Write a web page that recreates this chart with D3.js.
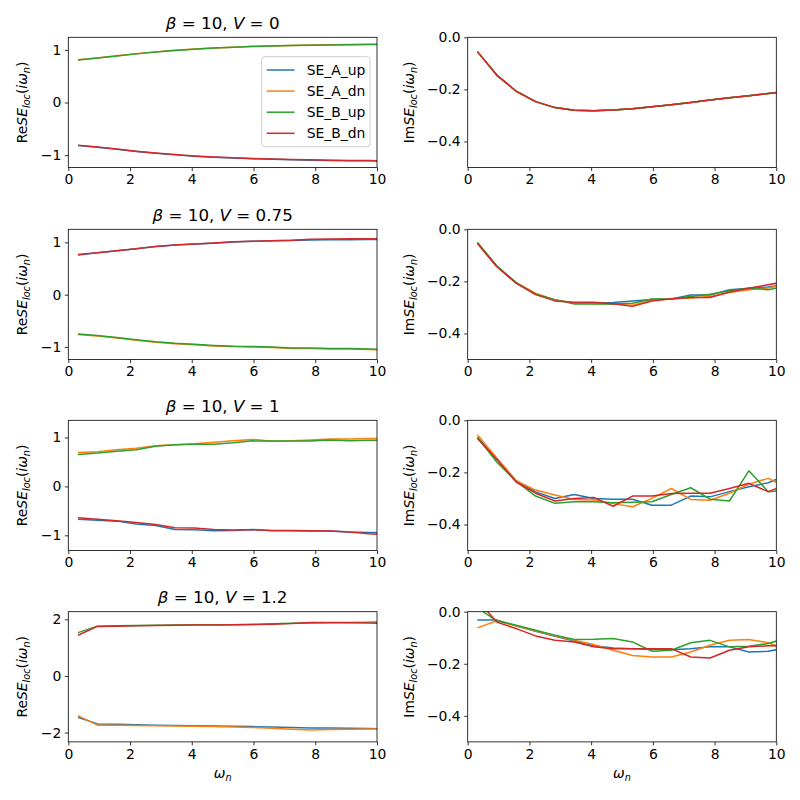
<!DOCTYPE html>
<html>
<head>
<meta charset="utf-8">
<script src="https://cdn.jsdelivr.net/npm/d3@7"></script>
<style>
  body { margin: 0; background: white; }
  text { font-family: "DejaVu Sans", sans-serif; fill: black; }
</style>
</head>
<body>
<svg id="fig" width="800" height="800"></svg>
<script>
// Matsubara frequencies (beta = 10)
var omega = [0.314, 0.942, 1.571, 2.199, 2.827, 3.456, 4.084, 4.712, 5.341,
             5.969, 6.597, 7.226, 7.854, 8.482, 9.111, 9.739, 10.367];

var seriesNames = ["SE_A_up", "SE_A_dn", "SE_B_up", "SE_B_dn"];
var seriesColors = ["#1f77b4", "#ff7f0e", "#2ca02c", "#d62728"];
var vValues = ["0", "0.75", "1", "1.2"];

// V = 0
var reV0_Aup = [-0.815,-0.85,-0.89,-0.93,-0.965,-0.995,-1.02,-1.04,-1.055,-1.07,-1.08,-1.088,-1.095,-1.1,-1.105,-1.108,-1.112];
var reV0_Adn = [0.813,0.848,0.888,0.928,0.963,0.993,1.018,1.038,1.053,1.068,1.078,1.086,1.093,1.098,1.103,1.106,1.11];
var reV0_Bup = [0.81,0.845,0.885,0.925,0.96,0.99,1.015,1.035,1.05,1.065,1.075,1.083,1.09,1.095,1.1,1.103,1.107];
var reV0_Bdn = [-0.81,-0.845,-0.885,-0.925,-0.96,-0.99,-1.015,-1.035,-1.05,-1.065,-1.075,-1.083,-1.09,-1.095,-1.1,-1.103,-1.107];
var imV0_Aup = [-0.055,-0.145,-0.207,-0.247,-0.27,-0.28,-0.282,-0.279,-0.274,-0.267,-0.259,-0.25,-0.241,-0.232,-0.224,-0.216,-0.208];
var imV0_Adn = [-0.055,-0.146,-0.208,-0.247,-0.27,-0.28,-0.282,-0.279,-0.274,-0.267,-0.259,-0.25,-0.241,-0.232,-0.224,-0.216,-0.208];
var imV0_Bup = [-0.055,-0.145,-0.207,-0.247,-0.27,-0.28,-0.282,-0.279,-0.274,-0.267,-0.259,-0.25,-0.241,-0.232,-0.224,-0.216,-0.208];
var imV0_Bdn = [-0.055,-0.145,-0.207,-0.247,-0.27,-0.28,-0.282,-0.279,-0.274,-0.267,-0.259,-0.25,-0.241,-0.232,-0.224,-0.216,-0.208];

// V = 0.75
var reV075_Aup = [0.76,0.8,0.84,0.88,0.92,0.95,0.97,0.985,1.005,1.02,1.03,1.035,1.045,1.05,1.05,1.055,1.06];
var reV075_Adn = [-0.76,-0.79,-0.83,-0.87,-0.91,-0.94,-0.96,-0.98,-0.99,-1.0,-1.01,-1.03,-1.03,-1.04,-1.04,-1.05,-1.06];
var reV075_Bup = [-0.75,-0.78,-0.82,-0.86,-0.9,-0.93,-0.95,-0.97,-0.985,-0.99,-1.0,-1.02,-1.02,-1.03,-1.03,-1.04,-1.05];
var reV075_Bdn = [0.77,0.8,0.84,0.88,0.92,0.95,0.97,0.99,1.01,1.02,1.03,1.04,1.06,1.065,1.07,1.07,1.07];
var imV075_Aup = [-0.054,-0.143,-0.207,-0.249,-0.271,-0.284,-0.284,-0.281,-0.275,-0.27,-0.268,-0.252,-0.252,-0.232,-0.226,-0.222,-0.21];
var imV075_Adn = [-0.054,-0.143,-0.205,-0.245,-0.271,-0.283,-0.285,-0.287,-0.292,-0.272,-0.268,-0.264,-0.258,-0.243,-0.232,-0.225,-0.21];
var imV075_Bup = [-0.05,-0.14,-0.205,-0.249,-0.27,-0.287,-0.287,-0.287,-0.284,-0.268,-0.268,-0.258,-0.249,-0.236,-0.226,-0.232,-0.218];
var imV075_Bdn = [-0.054,-0.143,-0.207,-0.251,-0.275,-0.28,-0.28,-0.286,-0.296,-0.275,-0.267,-0.262,-0.262,-0.241,-0.226,-0.213,-0.199];

// V = 1
var reV1_Aup = [-0.67,-0.69,-0.71,-0.77,-0.8,-0.88,-0.885,-0.905,-0.9,-0.88,-0.905,-0.905,-0.91,-0.91,-0.93,-0.94,-0.95];
var reV1_Adn = [0.69,0.71,0.75,0.78,0.83,0.85,0.87,0.9,0.93,0.96,0.92,0.93,0.95,0.97,0.97,0.98,0.98];
var reV1_Bup = [0.65,0.68,0.72,0.75,0.82,0.85,0.86,0.86,0.89,0.93,0.925,0.925,0.925,0.95,0.93,0.94,0.94];
var reV1_Bdn = [-0.64,-0.67,-0.7,-0.74,-0.78,-0.845,-0.85,-0.88,-0.89,-0.885,-0.9,-0.9,-0.905,-0.91,-0.93,-0.97,-0.99];
var imV1_Aup = [-0.065,-0.15,-0.232,-0.275,-0.3,-0.285,-0.3,-0.303,-0.303,-0.326,-0.326,-0.291,-0.294,-0.274,-0.255,-0.24,-0.209];
var imV1_Adn = [-0.055,-0.145,-0.232,-0.268,-0.287,-0.304,-0.306,-0.32,-0.332,-0.3,-0.262,-0.304,-0.307,-0.28,-0.245,-0.223,-0.259];
var imV1_Bup = [-0.065,-0.16,-0.235,-0.291,-0.319,-0.313,-0.313,-0.317,-0.315,-0.313,-0.285,-0.259,-0.303,-0.31,-0.194,-0.274,-0.269];
var imV1_Bdn = [-0.07,-0.15,-0.237,-0.28,-0.31,-0.3,-0.296,-0.33,-0.291,-0.291,-0.281,-0.28,-0.28,-0.262,-0.242,-0.274,-0.245];

// V = 1.2
var reV12_Aup = [-1.46,-1.7,-1.71,-1.72,-1.74,-1.75,-1.76,-1.77,-1.78,-1.79,-1.8,-1.82,-1.84,-1.84,-1.85,-1.86,-1.87];
var reV12_Adn = [-1.4,-1.74,-1.74,-1.75,-1.76,-1.77,-1.78,-1.79,-1.8,-1.82,-1.85,-1.88,-1.91,-1.89,-1.88,-1.87,-1.88];
var reV12_Bup = [1.53,1.76,1.77,1.78,1.79,1.8,1.81,1.81,1.81,1.82,1.84,1.86,1.87,1.88,1.89,1.9,1.91];
var reV12_Bdn = [1.44,1.75,1.76,1.77,1.78,1.79,1.8,1.8,1.81,1.82,1.83,1.85,1.89,1.89,1.88,1.87,1.86];
var imV12_Aup = [-0.032,-0.032,-0.054,-0.075,-0.094,-0.113,-0.131,-0.139,-0.142,-0.144,-0.146,-0.142,-0.135,-0.135,-0.155,-0.152,-0.138];
var imV12_Adn = [-0.062,-0.035,-0.055,-0.073,-0.092,-0.11,-0.126,-0.148,-0.168,-0.174,-0.174,-0.155,-0.129,-0.11,-0.107,-0.119,-0.148];
var imV12_Bup = [0.015,-0.035,-0.052,-0.071,-0.09,-0.107,-0.106,-0.103,-0.116,-0.152,-0.148,-0.119,-0.11,-0.135,-0.133,-0.122,-0.1];
var imV12_Bdn = [0.045,-0.04,-0.065,-0.093,-0.11,-0.116,-0.135,-0.142,-0.142,-0.142,-0.142,-0.174,-0.178,-0.148,-0.135,-0.131,-0.131];

var reData = [[reV0_Aup, reV0_Adn, reV0_Bup, reV0_Bdn],
              [reV075_Aup, reV075_Adn, reV075_Bup, reV075_Bdn],
              [reV1_Aup, reV1_Adn, reV1_Bup, reV1_Bdn],
              [reV12_Aup, reV12_Adn, reV12_Bup, reV12_Bdn]];
var imData = [[imV0_Aup, imV0_Adn, imV0_Bup, imV0_Bdn],
              [imV075_Aup, imV075_Adn, imV075_Bup, imV075_Bdn],
              [imV1_Aup, imV1_Adn, imV1_Bup, imV1_Bdn],
              [imV12_Aup, imV12_Adn, imV12_Bup, imV12_Bdn]];

var xTicks = [0, 2, 4, 6, 8, 10];
var reTicks = [[-1, 0, 1], [-1, 0, 1], [-1, 0, 1], [-2, 0, 2]];
var imTicks = [-0.4, -0.2, 0];

// layout
var colX = [[68.3, 377], [467.7, 776.3]];
var rowTop = [37.3, 229.3, 420.3, 611.7];
var axH = 130.2;
var reLim = [[-1.235, 1.24], [-1.24, 1.25], [-1.31, 1.35], [-2.33, 2.27]];
var imLim = [-0.5, 0];
var tickFont = 13.9, titleFont = 16.7;

var svg = d3.select("#fig");
var defs = svg.append("defs");

function ylabel(g, x, y, pre) {
  var t = g.append("text")
    .attr("transform", "translate(" + x + "," + y + ") rotate(-90)")
    .attr("text-anchor", "middle")
    .style("font-size", tickFont + "px");
  t.append("tspan").text(pre);
  t.append("tspan").style("font-style", "italic").text("SE");
  t.append("tspan").style("font-style", "italic").style("font-size", "9.7px").attr("dy", 3).text("loc");
  t.append("tspan").attr("dy", -3).text("(");
  t.append("tspan").style("font-style", "italic").text("iω");
  t.append("tspan").style("font-style", "italic").style("font-size", "9.7px").attr("dy", 3).text("n");
  t.append("tspan").attr("dy", -3).text(")");
}

function panel(row, col) {
  var x0 = colX[col][0], x1 = colX[col][1];
  var top = rowTop[row], bottom = top + axH;
  var isRe = col === 0;
  var yDom = isRe ? reLim[row] : imLim;
  var data = isRe ? reData[row] : imData[row];

  var x = d3.scaleLinear().domain([0, 10]).range([x0, x1]);
  var y = d3.scaleLinear().domain(yDom).range([bottom, top]);

  var g = svg.append("g");
  var clipId = "clip" + row + "_" + col;
  defs.append("clipPath").attr("id", clipId)
    .append("rect").attr("x", x0).attr("y", top).attr("width", x1 - x0).attr("height", axH);

  var line = d3.line().x(function(d, i) { return x(omega[i]); }).y(function(d) { return y(d); });

  g.append("g").attr("clip-path", "url(#" + clipId + ")")
    .selectAll("path").data(data).enter().append("path")
    .attr("d", line)
    .attr("fill", "none")
    .attr("stroke", function(d, i) { return seriesColors[i]; })
    .attr("stroke-width", 1.5)
    .attr("stroke-linejoin", "round");

  // axes
  var xa = g.append("g").attr("transform", "translate(0," + bottom + ")")
    .call(d3.axisBottom(x).tickValues(xTicks).tickFormat(d3.format("d")).tickSize(3.5).tickPadding(3.5));
  var ya = g.append("g").attr("transform", "translate(" + x0 + ",0)")
    .call(d3.axisLeft(y).tickValues(isRe ? reTicks[row] : imTicks)
      .tickFormat(isRe ? d3.format("d") : d3.format(".1f")).tickSize(3.5).tickPadding(3.5));
  [xa, ya].forEach(function(a) {
    a.select(".domain").remove();
    a.selectAll("line").attr("stroke-width", 0.8);
    a.selectAll("text").style("font-size", tickFont + "px").attr("font-family", null);
  });

  g.append("rect").attr("x", x0).attr("y", top).attr("width", x1 - x0).attr("height", axH)
    .attr("fill", "none").attr("stroke", "black").attr("stroke-width", 0.8);

  ylabel(g, isRe ? 26.5 : 413.5, top + axH / 2, isRe ? "Re" : "Im");

  if (isRe) {
    var t = g.append("text").attr("x", (x0 + x1) / 2).attr("y", top - 8.3)
      .attr("text-anchor", "middle").style("font-size", titleFont + "px");
    t.append("tspan").style("font-style", "italic").text("β");
    t.append("tspan").text(" = 10, ");
    t.append("tspan").style("font-style", "italic").text("V");
    t.append("tspan").text(" = " + vValues[row]);
  }

  if (row === 3) {
    var xl = g.append("text").attr("x", (x0 + x1) / 2).attr("y", bottom + 36)
      .attr("text-anchor", "middle").style("font-size", tickFont + "px");
    xl.append("tspan").style("font-style", "italic").text("ω");
    xl.append("tspan").style("font-style", "italic").style("font-size", "9.7px").attr("dy", 3).text("n");
  }

  if (row === 0 && col === 0) {
    var lg = g.append("g");
    lg.append("rect").attr("x", 261.7).attr("y", 56.7).attr("width", 108.3).attr("height", 90)
      .attr("rx", 3).attr("fill", "white").attr("fill-opacity", 0.8)
      .attr("stroke", "#cccccc").attr("stroke-width", 1);
    var items = lg.selectAll("g.item").data(seriesNames).enter().append("g")
      .attr("transform", function(d, i) { return "translate(0," + (70 + i * 21.1) + ")"; });
    items.append("line").attr("x1", 266.7).attr("x2", 294.5).attr("y1", 0).attr("y2", 0)
      .attr("stroke", function(d, i) { return seriesColors[i]; }).attr("stroke-width", 1.5);
    items.append("text").attr("x", 306.7).attr("y", 5).style("font-size", tickFont + "px")
      .text(function(d) { return d; });
  }
}

for (var r = 0; r < 4; r++) {
  panel(r, 0);
  panel(r, 1);
}
</script>
</body>
</html>
